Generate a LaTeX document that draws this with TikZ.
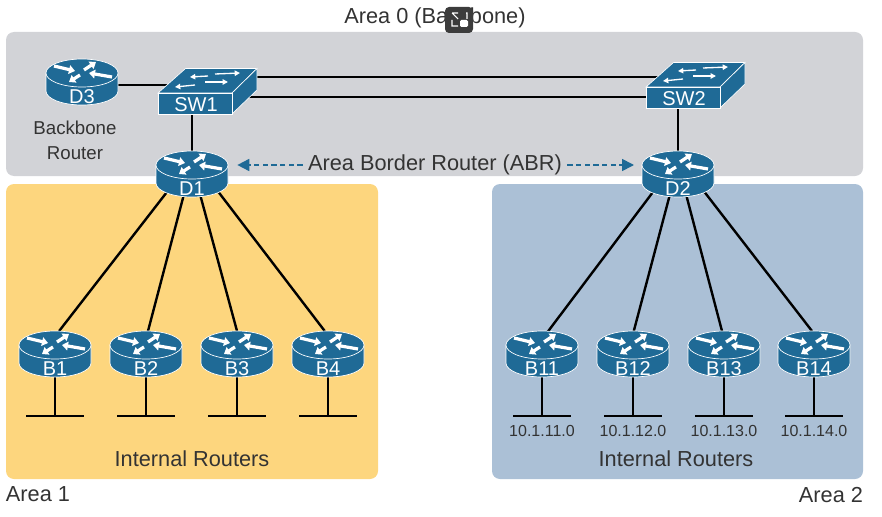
\documentclass[tikz,border=0pt]{standalone}
\usepackage{fontspec}
\setmainfont{Liberation Sans}
\usetikzlibrary{arrows.meta,calc,shapes.geometric}
\definecolor{ciscoblue}{HTML}{1F6A96}
\definecolor{backbonegray}{HTML}{D2D3D7}
\definecolor{areayellow}{HTML}{FDD67E}
\definecolor{areablue}{HTML}{ABC0D6}
\definecolor{labelgray}{HTML}{333333}
\definecolor{buttongray}{HTML}{3C3C3C}
\pgfdeclarelayer{back}
\pgfsetlayers{back,main}
\tikzset{
  x=0.75pt,y=-0.75pt,
  area/.style={rounded corners=6pt,draw=none},
  link/.style={black,line width=1.8pt},
  stub/.style={black,line width=1.7pt},
  iconarrow/.style={white,line width=2.4pt,-{Triangle[length=4.5pt,width=6.5pt]}},
  swarrow/.style={white,line width=1pt,-{Triangle[length=4pt,width=4pt]}},
  abrarrow/.style={ciscoblue,line width=1.3pt,dash pattern=on 4pt off 2.5pt,-{Triangle[length=9pt,width=9pt]}},
  routerbox/.style={ellipse,minimum width=54pt,minimum height=34.5pt,inner sep=0pt,outer sep=0pt},
  switchbox/.style={rectangle,minimum width=74.25pt,minimum height=33.75pt,inner sep=0pt,outer sep=0pt},
  iconlabel/.style={white,font=\fontsize{15pt}{15pt}\selectfont,inner sep=0pt},
  textlabel/.style={labelgray,font=\fontsize{16.3pt}{17pt}\selectfont,inner sep=0pt,align=center},
  smalllabel/.style={labelgray,font=\fontsize{14pt}{18.5pt}\selectfont,inner sep=0pt,align=center},
  netlabel/.style={labelgray,font=\fontsize{12pt}{12pt}\selectfont,inner sep=0pt},
  routericon/.pic={
    \draw[white,line width=.5pt,fill=ciscoblue] (-36,-9)--(-36,9) arc[start angle=180,end angle=0,x radius=36,y radius=14]--(36,-9)--cycle;
    \draw[white,line width=.5pt,fill=ciscoblue] (0,-9) ellipse[x radius=36,y radius=14];
    \draw[iconarrow] (-28,-16)--(-7,-11);
    \draw[iconarrow] (2,-12)--(14,-20);
    \draw[iconarrow] (30,-5)--(7,-9);
    \draw[iconarrow] (-2,-7)--(-13,0);
  },
  switchicon/.pic={
    \draw[white,line width=.5pt,fill=ciscoblue] (-49.5,1.5)--(-22,-23)--(49.5,-23)--(24.5,1.5)--cycle;
    \draw[white,line width=.5pt,fill=ciscoblue] (24.5,1.5)--(49.5,-23)--(49.5,-1.5)--(24.5,22.5)--cycle;
    \draw[white,line width=.5pt,fill=ciscoblue] (-49.5,1.5)--(24.5,1.5)--(24.5,22.5)--(-49.5,22.5)--cycle;
    \draw[swarrow] (7.5,-17.5)--(32.5,-18.5);
    \draw[swarrow] (0.5,-15.5)--(-17.5,-14.5);
    \draw[swarrow] (-2.5,-9.5)--(20.5,-9.5);
    \draw[swarrow] (-12.5,-6.5)--(-32.5,-4.5);
  },
}
\begin{document}
\begin{tikzpicture}
\useasboundingbox (0,0) rectangle (882,517);
%areas
\begin{pgfonlayer}{back}
\fill[area,backbonegray] (6,32) rectangle (863,176);
\fill[area,areayellow] (6,184) rectangle (378,479);
\fill[area,areablue] (492,184) rectangle (863,479);
\end{pgfonlayer}
%routers
\foreach \rname/\rx/\ry in {D3/82/82,D1/192/174,D2/678/174,B1/55/354,B2/146/354,B3/237/354,B4/328/354,B11/542/354,B12/633/354,B13/724/354,B14/814/354}{
  \pic at (\rx,\ry) {routericon};
  \node[routerbox] (\rname) at (\rx,\ry) {};
  \node[iconlabel] (\rname lab) at (\rx,\ry+15) {\rname};
}
%switches
\pic at (207.5,91.5) {switchicon};
\node[switchbox] (SW1) at (207.5,91.5) {};
\node[iconlabel] (SW1lab) at (196,105) {SW1};
\pic at (695.5,85.5) {switchicon};
\node[switchbox] (SW2) at (695.5,85.5) {};
\node[iconlabel] (SW2lab) at (684,99) {SW2};
%links
\coordinate (SW1up) at (250,77);
\coordinate (SW2up) at (660,77);
\coordinate (SW1low) at (240,97);
\coordinate (SW2low) at (655,97);
\coordinate (SW1in) at (175,85);
\begin{pgfonlayer}{back}
\draw[link] (SW1up)--(SW2up);
\draw[link] (SW1low)--(SW2low);
\draw[link] (SW1in-|D3)--(SW1in);
\draw[link] (D1)--(D1|-SW1);
\draw[link] (D2)--(D2|-SW2);
\draw[link] (D1.-145)--(B1.80);
\draw[link] (D1.-111)--(B2.85);
\draw[link] (D1.-69)--(B3.90);
\draw[link] (D1.-33)--(B4.98);
\draw[link] (D2.-145)--(B11.75);
\draw[link] (D2.-111)--(B12.88);
\draw[link] (D2.-69)--(B13.95);
\draw[link] (D2.-33)--(B14.95);
\end{pgfonlayer}
%networks
\foreach \rname/\rx/\hw in {B1/55/29,B2/146/29,B3/237/29,B4/328/29,B11/542/29,B12/633/29,B13/724/29,B14/814/29}{
  \coordinate (\rname net) at (\rx,416);
  \coordinate (\rname netl) at (\rx-\hw,416);
  \coordinate (\rname netr) at (\rx+\hw,416);
  \begin{pgfonlayer}{back}
  \draw[stub] (\rname)--(\rname net);
  \draw[stub] (\rname netl)--(\rname netr);
  \end{pgfonlayer}
}
\node[netlabel] (net11) at (542,431) {10.1.11.0};
\node[netlabel] (net12) at (633,431) {10.1.12.0};
\node[netlabel] (net13) at (724,431) {10.1.13.0};
\node[netlabel] (net14) at (814,431) {10.1.14.0};
%labels
\node[textlabel] (area0) at (435,18) {Area 0 (Backbone)};
\node[textlabel] (area1) at (38,494) {Area 1};
\node[textlabel] (area2) at (831,495) {Area 2};
\node[smalllabel] (bbrouter) at (75,140) {Backbone\\Router};
\node[textlabel] (intleft) at (192,459) {Internal Routers};
\node[textlabel] (intright) at (676,459) {Internal Routers};
\node[textlabel] (abrlabel) at (435,165) {Area Border Router (ABR)};
\draw[abrarrow,shorten <=4pt,shorten >=7pt] (abrlabel.west)--(abrlabel.west-|D1.east);
\draw[abrarrow,shorten <=4pt,shorten >=6pt] (abrlabel.east)--(abrlabel.east-|D2.west);
%button over the title
\fill[buttongray,rounded corners=3pt] (445,7) rectangle (473,33);
\draw[white,line width=.8pt] (452,13)--(458,13) (466,13)--(467,13)--(467,19) (452,20)--(452,26)--(458,26) (452,13)--(458,19);
\fill[white,rounded corners=1pt] (460,20) rectangle (468,27);
\end{tikzpicture}
\end{document}
